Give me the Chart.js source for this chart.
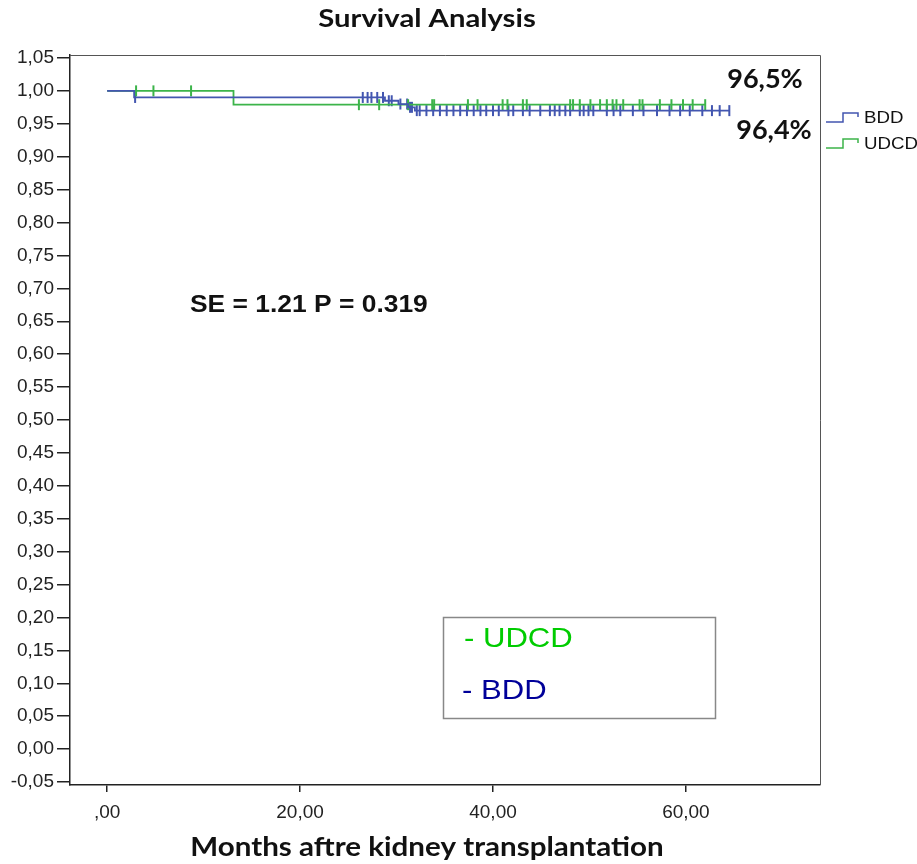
<!DOCTYPE html>
<html>
<head>
<meta charset="utf-8">
<title>Survival Analysis</title>
<script src="https://cdn.jsdelivr.net/npm/chart.js@4.4.0/dist/chart.umd.min.js"></script>
<style>
  html, body { margin: 0; padding: 0; background: #fff; }
  #wrap { width: 917px; height: 864px; }
</style>
</head>
<body>
<div id="wrap"><canvas id="survivalChart" width="917" height="864"></canvas></div>
<script>
// Kaplan-Meier steps: time in months and cumulative survival after that time
var bddTimes = [0, 2.8, 28.8, 30.2, 31.2, 31.9, 64.5];
var bddSurv = [1.0, 0.99, 0.985, 0.98, 0.975, 0.97, 0.97];
var udcdTimes = [0, 13.1, 62.0];
var udcdSurv = [1.0, 0.979, 0.979];

// censored cases (months)
var bddCensored = [2.9, 26.5, 27.0, 27.4, 28.0, 28.6, 29.2, 29.5, 30.4, 31.1, 31.4, 31.6, 32.1, 32.4,
    33.1, 33.8, 34.5, 35.2, 35.9, 36.6, 37.3, 38.0, 38.7, 39.3, 40.0, 40.6, 41.6, 42.1, 43.1, 43.8,
    44.9, 45.9, 46.4, 46.9, 47.5, 48.0, 49.0, 49.4, 49.9, 50.4, 51.8, 52.5, 53.2, 54.5, 55.6, 57.0,
    58.3, 59.4, 60.4, 61.7, 62.7, 63.5, 64.5];
var udcdCensored = [3.0, 4.8, 8.7, 26.1, 28.2, 31.2, 33.7, 33.9, 37.4, 38.4, 41.0, 41.5, 43.1, 43.5,
    48.0, 48.3, 49.0, 50.1, 51.1, 51.8, 52.4, 52.8, 53.5, 55.2, 55.5, 57.3, 58.5, 59.7, 60.7, 62.0];

var groups = ['BDD', 'UDCD'];
var groupColors = ['#4356b0', '#3cb44a'];

var xTicks = [0, 20, 40, 60];
var xTickLabels = [',00', '20,00', '40,00', '60,00'];
var yTicks = [-0.05, 0, 0.05, 0.10, 0.15, 0.20, 0.25, 0.30, 0.35, 0.40, 0.45, 0.50, 0.55,
    0.60, 0.65, 0.70, 0.75, 0.80, 0.85, 0.90, 0.95, 1.00, 1.05];

var chartTitle = 'Survival Analysis';
var xTitle = 'Months aftre kidney transplantation';
var endLabels = ['96,5%', '96,4%'];
var statText = 'SE = 1.21 P = 0.319';
var boxLabels = ['- UDCD', '- BDD'];
var boxColors = ['#00cc00', '#000099'];

function toPoints(times, surv) {
    return times.map((t, i) => ({ x: t, y: surv[i] }));
}

// survival value of the curve at a given time (for placing censor marks)
function survAt(times, surv, t) {
    var s = surv[0];
    for (var i = 0; i < times.length; i++) {
        if (times[i] <= t) s = surv[i];
    }
    return s;
}

function censorPoints(cens, times, surv) {
    return cens.map(t => ({ x: t, y: survAt(times, surv, t) }));
}

// the original picture is a bit wider than tall, so the text is stretched sideways
function wideText(ctx, text, x, y, sx) {
    ctx.save();
    ctx.translate(x, y);
    ctx.scale(sx, 1);
    ctx.fillText(text, 0, 0);
    ctx.restore();
}

var decorPlugin = {
    id: 'decor',
    afterDraw: function(chart) {
        var ctx = chart.ctx;
        var area = chart.chartArea;
        ctx.save();

        // frame on top and right
        ctx.strokeStyle = '#555';
        ctx.lineWidth = 1;
        ctx.beginPath();
        ctx.moveTo(area.left, area.top + 0.5);
        ctx.lineTo(area.right + 0.5, area.top + 0.5);
        ctx.lineTo(area.right + 0.5, area.bottom);
        ctx.stroke();

        // titles
        ctx.fillStyle = '#111';
        ctx.textAlign = 'center';
        ctx.textBaseline = 'middle';
        ctx.font = 'bold 25px Lato';
        wideText(ctx, chartTitle, 427, 19, 1.17);
        ctx.font = 'bold 27px Lato';
        wideText(ctx, xTitle, 427, 847, 1.095);

        // end percentages
        ctx.font = 'bold 26px Lato';
        wideText(ctx, endLabels[0], 765, 80, 1.04);
        wideText(ctx, endLabels[1], 774, 131, 1.04);

        // SE / P text
        ctx.font = 'bold 24px "Liberation Sans"';
        ctx.textAlign = 'left';
        wideText(ctx, statText, 190, 305, 1.1);

        // legend on the right
        ctx.lineWidth = 1.5;
        [118, 144].forEach((yc, i) => {
            ctx.strokeStyle = groupColors[i];
            ctx.beginPath();
            ctx.moveTo(826, yc + 4);
            ctx.lineTo(843, yc + 4);
            ctx.lineTo(843, yc - 5);
            ctx.lineTo(858, yc - 5);
            ctx.lineTo(858, yc - 1);
            ctx.stroke();
            ctx.fillStyle = '#111';
            ctx.font = '17px "Liberation Sans"';
            wideText(ctx, groups[i], 864, yc, 1.1);
        });

        // text box
        ctx.strokeStyle = '#888';
        ctx.lineWidth = 1.5;
        ctx.strokeRect(443.5, 617.5, 272, 101);
        ctx.font = '28px "Liberation Sans"';
        ctx.fillStyle = boxColors[0];
        wideText(ctx, boxLabels[0], 464, 639, 1.11);
        ctx.fillStyle = boxColors[1];
        wideText(ctx, boxLabels[1], 462, 691, 1.11);

        ctx.restore();
    }
};

var ctx = document.getElementById('survivalChart').getContext('2d');
var survivalChart = new Chart(ctx, {
    type: 'scatter',
    data: {
        datasets: [
            {
                label: groups[0],
                data: toPoints(bddTimes, bddSurv),
                showLine: true,
                stepped: 'before',
                borderColor: groupColors[0],
                borderWidth: 1.8,
                pointRadius: 0,
                fill: false
            },
            {
                label: groups[1],
                data: toPoints(udcdTimes, udcdSurv),
                showLine: true,
                stepped: 'before',
                borderColor: groupColors[1],
                borderWidth: 1.8,
                pointRadius: 0,
                fill: false
            },
            {
                label: groups[1] + ' censored',
                data: censorPoints(udcdCensored, udcdTimes, udcdSurv),
                showLine: false,
                pointStyle: 'line',
                rotation: 90,
                pointRadius: 5.5,
                borderColor: groupColors[1],
                backgroundColor: groupColors[1],
                pointBorderWidth: 2
            },
            {
                label: groups[0] + ' censored',
                data: censorPoints(bddCensored, bddTimes, bddSurv),
                showLine: false,
                pointStyle: 'line',
                rotation: 90,
                pointRadius: 5.5,
                borderColor: groupColors[0],
                backgroundColor: groupColors[0],
                pointBorderWidth: 2
            }
        ]
    },
    options: {
        responsive: false,
        animation: false,
        layout: { padding: { top: 55, right: 97, left: 0, bottom: 0 } },
        plugins: {
            legend: { display: false },
            tooltip: { enabled: false },
            title: { display: false }
        },
        scales: {
            x: {
                type: 'linear',
                min: -3.85,
                max: 73.9,
                afterFit: function(scale) { scale.height = 79; },
                afterBuildTicks: function(scale) {
                    scale.ticks = xTicks.map(v => ({ value: v }));
                },
                ticks: {
                    autoSkip: false,
                    maxRotation: 0,
                    padding: 9,
                    color: '#222',
                    font: { family: '"Liberation Sans"', size: 19 },
                    callback: function(value) {
                        return xTickLabels[xTicks.indexOf(value)];
                    }
                },
                grid: { drawOnChartArea: false, drawTicks: true, tickLength: 7, color: '#222', lineWidth: 1.5 },
                border: { color: '#222', width: 1.5 }
            },
            y: {
                type: 'linear',
                min: -0.0545,
                max: 1.0545,
                afterFit: function(scale) { scale.width = 70; },
                afterBuildTicks: function(scale) {
                    scale.ticks = yTicks.map(v => ({ value: v }));
                },
                ticks: {
                    autoSkip: false,
                    padding: 3,
                    color: '#222',
                    font: { family: '"Liberation Sans"', size: 19 },
                    callback: function(value) {
                        return value.toFixed(2).replace('.', ',');
                    }
                },
                grid: { drawOnChartArea: false, drawTicks: true, tickLength: 13, color: '#222', lineWidth: 1.5 },
                border: { color: '#222', width: 1.5 }
            }
        }
    },
    plugins: [decorPlugin]
});
</script>
</body>
</html>
